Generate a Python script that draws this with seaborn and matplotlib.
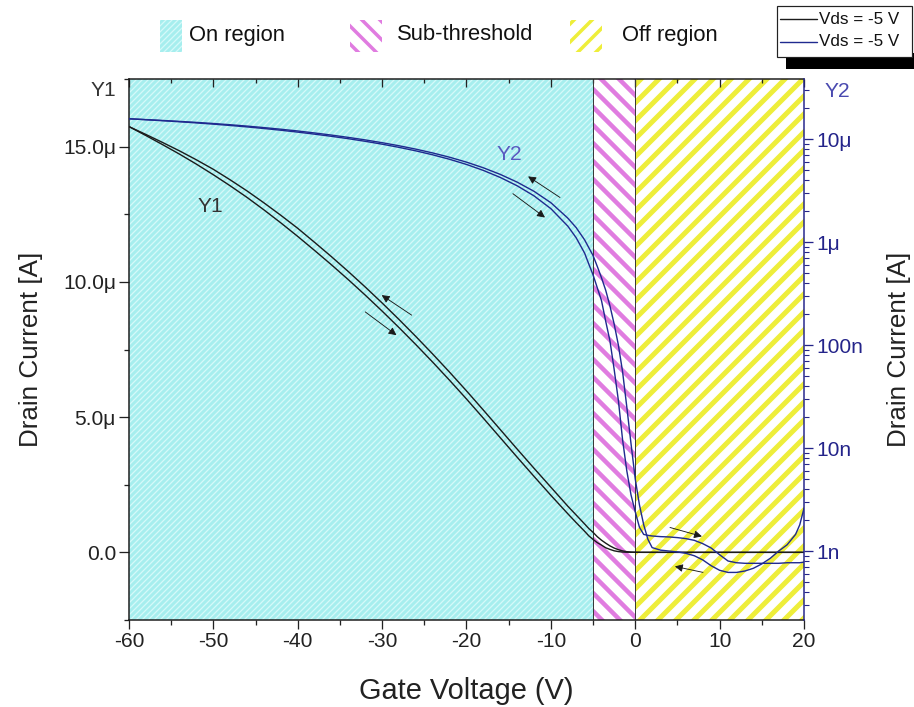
import matplotlib
matplotlib.use("Agg")
import numpy as np
import pandas as pd
import matplotlib.pyplot as plt
import matplotlib.ticker as mticker
import matplotlib.backend_bases as mbb
from matplotlib.patches import Rectangle
from matplotlib.lines import Line2D
import seaborn as sns

# ---------------- data ----------------
gate_voltage = [-60, -58, -56, -54, -52, -50, -48, -46, -44, -42, -40, -38, -36, -34,
                -32, -30, -28, -26, -24, -22, -20, -18, -16, -14, -12, -10, -8,
                -7, -6, -5.5, -5, -4.5, -4, -3.5, -3, -2.5, -2, -1.5, -1, -0.5, 0,
                0.5, 1, 1.5, 2, 3, 4, 5, 6, 7, 8, 9, 10, 11, 12, 13, 14, 15, 16,
                17, 18, 19, 19.5, 20]

# forward sweep (-60 V -> 20 V), drain current in A
current_forward = [15.74e-6, 15.41e-6, 15.07e-6, 14.72e-6, 14.35e-6, 13.96e-6, 13.55e-6,
                   13.12e-6, 12.66e-6, 12.18e-6, 11.68e-6, 11.16e-6, 10.63e-6, 10.08e-6,
                   9.51e-6, 8.92e-6, 8.31e-6, 7.68e-6, 7.03e-6, 6.36e-6, 5.67e-6, 4.96e-6,
                   4.24e-6, 3.52e-6, 2.81e-6, 2.11e-6, 1.43e-6,
                   1.10e-6, 0.78e-6, 0.61e-6, 0.48e-6, 0.36e-6, 0.27e-6, 0.17e-6, 0.11e-6,
                   58e-9, 29e-9, 12e-9, 6e-9, 3.5e-9, 2.4e-9,
                   1.7e-9, 1.45e-9, 1.42e-9, 1.40e-9, 1.38e-9, 1.37e-9, 1.35e-9, 1.32e-9,
                   1.27e-9, 1.18e-9, 1.07e-9, 0.92e-9, 0.80e-9, 0.77e-9, 0.76e-9, 0.76e-9,
                   0.76e-9, 0.76e-9, 0.76e-9, 0.77e-9, 0.77e-9, 0.77e-9, 0.78e-9]

# reverse sweep (20 V -> -60 V), drain current in A
current_reverse = [15.74e-6, 15.45e-6, 15.15e-6, 14.84e-6, 14.51e-6, 14.16e-6, 13.77e-6,
                   13.36e-6, 12.92e-6, 12.46e-6, 11.98e-6, 11.46e-6, 10.93e-6, 10.38e-6,
                   9.81e-6, 9.22e-6, 8.61e-6, 7.98e-6, 7.33e-6, 6.66e-6, 5.97e-6, 5.26e-6,
                   4.54e-6, 3.82e-6, 3.11e-6, 2.41e-6, 1.71e-6,
                   1.38e-6, 1.05e-6, 0.88e-6, 0.74e-6, 0.58e-6, 0.45e-6, 0.34e-6, 0.24e-6,
                   0.16e-6, 0.10e-6, 55e-9, 25e-9, 11e-9, 5e-9,
                   2.8e-9, 1.8e-9, 1.3e-9, 1.08e-9, 1.02e-9, 1.00e-9, 0.98e-9, 0.95e-9,
                   0.90e-9, 0.82e-9, 0.72e-9, 0.65e-9, 0.62e-9, 0.62e-9, 0.64e-9, 0.68e-9,
                   0.75e-9, 0.85e-9, 1.00e-9, 1.15e-9, 1.45e-9, 1.8e-9, 2.6e-9]

regions = ["On region", "Sub-threshold", "Off region"]
region_bounds = [(-60, -5), (-5, 0), (0, 20)]
left_ticks = [0, 5e-6, 10e-6, 15e-6]
left_tick_labels = ["0.0", "5.0\u03bc", "10.0\u03bc", "15.0\u03bc"]
right_ticks = [1e-9, 1e-8, 1e-7, 1e-6, 1e-5]
right_tick_labels = ["1n", "10n", "100n", "1\u03bc", "10\u03bc"]
x_ticks = [-60, -50, -40, -30, -20, -10, 0, 10, 20]
legend_label = "Vds = -5 V"

df = pd.DataFrame({
    "V": gate_voltage * 2,
    "I": current_forward + current_reverse,
    "sweep": ["forward"] * len(gate_voltage) + ["reverse"] * len(gate_voltage),
})

# slightly denser hatch stripes (8 lines per hatch unit instead of 6)
try:
    mbb.GraphicsContextBase.get_hatch_path.__defaults__ = (8.0,)
except Exception:
    pass

# ---------------- style ----------------
sns.set_theme(style="white")
plt.rcParams["font.family"] = ["Liberation Sans", "DejaVu Sans"]

W, H = 914, 707
fig = plt.figure(figsize=(W / 72, H / 72), dpi=72)
L, R, T, B = 129, 804, 79, 620
ax = fig.add_axes([L / W, 1 - B / H, (R - L) / W, (B - T) / H])
ax2 = ax.twinx()
ax2.set_yscale("log")

BLACK = "#1b1b1b"
BLUE = "#1f2a8f"
NAVY = "#24248a"

# hatched regions
region_style = [
    dict(face="#a6eeee", hatchc="#d4f9f9", hatch="///", lw=1.3),
    dict(face="#ffffff", hatchc="#e07ce0", hatch="\\", lw=4.5),
    dict(face="#ffffff", hatchc="#eeee3a", hatch="/", lw=5.0),
]
for (x0, x1), st in zip(region_bounds, region_style):
    with plt.rc_context({"hatch.linewidth": st["lw"]}):
        p = ax.axvspan(x0, x1, facecolor=st["face"], edgecolor=st["hatchc"],
                       hatch=st["hatch"], linewidth=0, zorder=0)
        if hasattr(p, "set_hatch_linewidth"):
            p.set_hatch_linewidth(st["lw"])
for xb in (-5, 0):
    ax.axvline(xb, color="#3a3a3a", lw=1.0, zorder=1)

# curves
for sw in ["forward", "reverse"]:
    sub = df[df.sweep == sw]
    sns.lineplot(data=sub, x="V", y="I", ax=ax, color=BLACK, lw=1.4,
                 sort=False, estimator=None, legend=False, zorder=3)
    sns.lineplot(data=sub, x="V", y="I", ax=ax2, color=BLUE, lw=1.4,
                 sort=False, estimator=None, legend=False, zorder=3)

ax.set_xlim(-60, 20)
ax.set_ylim(-2.5e-6, 17.5e-6)
ax2.set_ylim(2.14e-10, 3.83e-5)

# ticks
ax.xaxis.set_major_locator(mticker.FixedLocator(x_ticks))
ax.xaxis.set_minor_locator(mticker.MultipleLocator(5))
ax.set_xticklabels([str(v) for v in x_ticks])
ax.yaxis.set_major_locator(mticker.FixedLocator(left_ticks))
ax.yaxis.set_minor_locator(mticker.MultipleLocator(2.5e-6))
ax.set_yticklabels(left_tick_labels)
ax2.yaxis.set_major_locator(mticker.FixedLocator(right_ticks))
ax2.yaxis.set_minor_locator(mticker.LogLocator(base=10, subs=np.arange(2, 10)))
ax2.yaxis.set_minor_formatter(mticker.NullFormatter())
ax2.set_yticklabels(right_tick_labels)

TFS = 21
ax.tick_params(axis="x", which="major", direction="out", length=9, width=1.3,
               labelsize=TFS, colors="#222222", pad=3, top=False, bottom=True)
ax.tick_params(axis="x", which="minor", direction="out", length=5, width=1.3,
               colors="#222222", top=False, bottom=True)
ax.tick_params(axis="y", which="major", direction="out", length=10, width=1.3,
               labelsize=TFS, colors="#222222", pad=3, left=True, right=False)
ax.tick_params(axis="y", which="minor", direction="out", length=5, width=1.3,
               colors="#222222", left=True, right=False)
ax2.tick_params(axis="y", which="major", direction="out", length=9, width=1.3,
                labelsize=TFS, colors=NAVY, pad=3, right=True, left=False)
ax2.tick_params(axis="y", which="minor", direction="out", length=5, width=1.1,
                colors=NAVY, right=True, left=False)

top = ax.secondary_xaxis("top")
top.xaxis.set_major_locator(mticker.FixedLocator(x_ticks))
top.xaxis.set_minor_locator(mticker.MultipleLocator(5))
top.tick_params(axis="x", which="major", direction="in", length=8, width=1.3,
                labeltop=False, colors="#222222")
top.tick_params(axis="x", which="minor", direction="in", length=4, width=1.3,
                colors="#222222")
top.spines["top"].set_visible(False)

for s in ["left", "bottom", "top"]:
    ax.spines[s].set_color("#1a1a1a")
    ax.spines[s].set_linewidth(1.5)
ax.spines["right"].set_visible(False)
for s in ["left", "bottom", "top"]:
    ax2.spines[s].set_visible(False)
ax2.spines["right"].set_color(NAVY)
ax2.spines["right"].set_linewidth(1.5)

ax.set_xlabel("Gate Voltage (V)", fontsize=29, color="#222222", labelpad=26)
ax.set_ylabel("Drain Current [A]", fontsize=26, color="#222222", labelpad=20)
ax2.set_ylabel("Drain Current [A]", fontsize=26, color="#222222", labelpad=24)

ax.text(-0.038, 0.978, "Y1", transform=ax.transAxes, fontsize=TFS, color="#333333",
        ha="center", va="center")
ax2.text(1.05, 0.976, "Y2", transform=ax.transAxes, fontsize=TFS, color="#4a4ab0",
         ha="center", va="center")
ax.text(-50.3, 12.8e-6, "Y1", fontsize=TFS, color="#333333", ha="center", va="center", zorder=5)
ax.text(-14.9, 14.7e-6, "Y2", fontsize=TFS, color="#5a5ac0", ha="center", va="center", zorder=5)

# sweep direction arrows
arrows = [((-26.5, 8.77e-6), (-30.05, 9.51e-6)),
          ((-32.0, 8.89e-6), (-28.3, 8.03e-6)),
          ((-8.92, 13.12e-6), (-12.7, 13.9e-6)),
          ((-14.5, 13.26e-6), (-10.7, 12.38e-6)),
          ((4.12, 0.92e-6), (7.9, 0.59e-6)),
          ((8.03, -0.74e-6), (4.7, -0.52e-6))]
for tail, head in arrows:
    ax.annotate("", xy=head, xytext=tail,
                arrowprops=dict(arrowstyle="-|>", color="#1a1a1a", lw=0.9,
                                mutation_scale=16, shrinkA=0, shrinkB=0), zorder=6)

# ---------------- top legend (hatched swatches) ----------------
def fig_px(x, y):
    return x / W, 1 - y / H

sw_specs = [(160, 182), (350, 382), (570, 602)]
text_x = [189, 397, 622]
for (x0, x1), tx, name, st in zip(sw_specs, text_x, regions, region_style):
    lw = min(st["lw"], 3.5)
    with plt.rc_context({"hatch.linewidth": lw}):
        r = Rectangle(fig_px(x0, 52), (x1 - x0) / W, 32 / H, transform=fig.transFigure,
                      facecolor=st["face"], edgecolor=st["hatchc"], hatch=st["hatch"],
                      linewidth=0)
        if hasattr(r, "set_hatch_linewidth"):
            r.set_hatch_linewidth(lw)
        fig.add_artist(r)
    fig.text(*fig_px(tx, 35), name, fontsize=22, color="#111111", ha="left", va="center")

# right legend box with shadow
fig.add_artist(Rectangle(fig_px(786, 69), (914 - 786) / W, 16 / H, transform=fig.transFigure,
                         facecolor="black", edgecolor="none"))
fig.add_artist(Rectangle(fig_px(777, 57), (912 - 777) / W, 51 / H, transform=fig.transFigure,
                         facecolor="white", edgecolor="#222222", linewidth=1.2))
for yy, col in [(19, BLACK), (42, BLUE)]:
    fig.add_artist(Line2D([780 / W, 817 / W], [1 - yy / H] * 2, color=col, lw=1.4,
                          transform=fig.transFigure))
    fig.text(*fig_px(819, yy), legend_label, fontsize=17, color="#111111",
             ha="left", va="center")

fig.savefig("out.png", dpi=72)
